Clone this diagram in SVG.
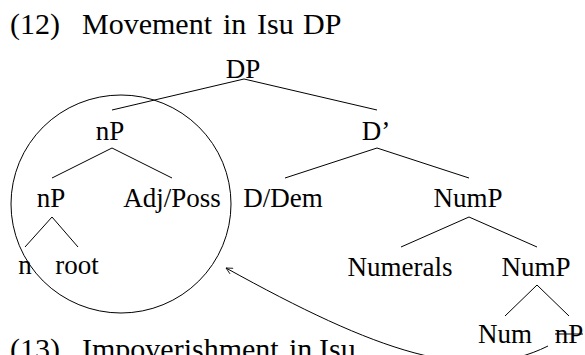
<svg xmlns="http://www.w3.org/2000/svg" width="585" height="355" viewBox="0 0 585 355">
<style>
text{font-family:"Liberation Serif","Times New Roman",serif;fill:#000}
.t{font-size:30px}
.n{font-size:27px;text-anchor:middle}
line,path,ellipse{stroke:#000;stroke-width:1;fill:none}
</style>
<defs>
<marker id="ah" viewBox="0 0 10 10" refX="9" refY="5" markerWidth="8" markerHeight="8" markerUnits="userSpaceOnUse" orient="auto">
<path d="M1,1 L9,5 L1,9" stroke="#000" stroke-width="1.2" fill="none"/>
</marker>
</defs>
<rect width="585" height="355" fill="#fff"/>
<g id="title12"><text class="t" y="34"><tspan x="10">(12)</tspan><tspan x="82">Movement</tspan><tspan x="223">in</tspan><tspan x="257">Isu</tspan><tspan x="303">DP</tspan></text></g>
<g id="title13"><text class="t" y="359"><tspan x="10">(13)</tspan><tspan x="82">Impoverishment</tspan><tspan x="289">in</tspan><tspan x="319">Isu</tspan></text></g>
<g id="connectors">
<line x1="244" y1="79" x2="112" y2="110"/>
<line x1="244" y1="79" x2="377" y2="110"/>
<line x1="112" y1="148" x2="52" y2="178"/>
<line x1="112" y1="148" x2="172" y2="178"/>
<line x1="377" y1="148" x2="285" y2="178"/>
<line x1="377" y1="148" x2="469" y2="178"/>
<line x1="52" y1="217" x2="25" y2="247"/>
<line x1="52" y1="217" x2="78" y2="247"/>
<line x1="469" y1="217" x2="401" y2="247"/>
<line x1="469" y1="217" x2="537" y2="247"/>
<line x1="537" y1="285" x2="505" y2="316"/>
<line x1="537" y1="285" x2="569" y2="316"/>
<path d="M548,346 C470,385 376,351 226,268" marker-end="url(#ah)"/>
</g>
<g id="circle"><ellipse cx="121" cy="204" rx="110" ry="109"/></g>
<g id="DP"><text class="n" x="243" y="78">DP</text></g>
<g id="nP1"><text class="n" x="110" y="140">nP</text></g>
<g id="Dbar"><text class="n" x="376" y="140">D’</text></g>
<g id="nP2"><text class="n" x="51" y="207">nP</text></g>
<g id="AdjPoss"><text class="n" x="172" y="207">Adj/Poss</text></g>
<g id="DDem"><text class="n" x="283" y="207">D/Dem</text></g>
<g id="NumP1"><text class="n" x="468" y="207">NumP</text></g>
<g id="n"><text class="n" x="25" y="274">n</text></g>
<g id="root"><text class="n" x="77" y="274">root</text></g>
<g id="Numerals"><text class="n" x="400" y="276">Numerals</text></g>
<g id="NumP2"><text class="n" x="536" y="276">NumP</text></g>
<g id="Num"><text class="n" x="505" y="343">Num</text></g>
<g id="nP3"><text class="n" x="569" y="343">nP</text><line x1="555" y1="334" x2="583" y2="334"/></g>
</svg>
